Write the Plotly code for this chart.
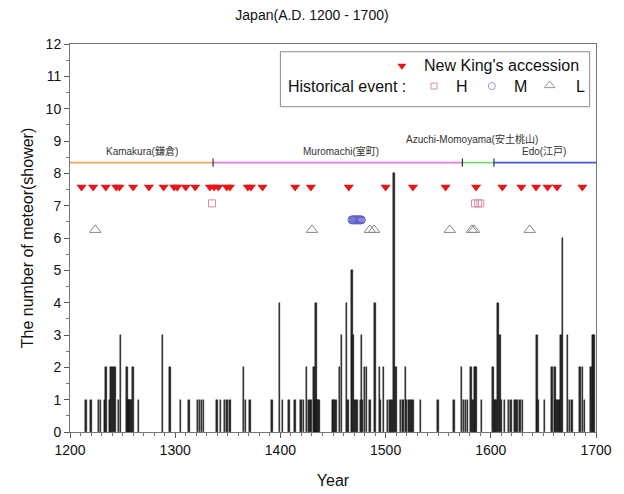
import plotly.graph_objects as go

# ---- data ----
bar_years = [1215, 1220, 1227, 1229, 1233, 1234, 1238, 1239, 1241, 1243, 1246, 1248, 1254, 1255, 1256, 1257,
             1258, 1260, 1265, 1288, 1295, 1305, 1313, 1321, 1323, 1325, 1327, 1340, 1343, 1347, 1349, 1352,
             1365, 1367, 1371, 1392, 1399, 1402, 1408, 1414, 1419, 1420, 1422, 1425, 1427, 1429, 1432, 1433,
             1434, 1435, 1436, 1437, 1450, 1451, 1453, 1456, 1458, 1463, 1464, 1468, 1469, 1471, 1473, 1476,
             1477, 1478, 1480, 1482, 1485, 1490, 1494, 1495, 1498, 1502, 1504, 1506, 1508, 1510, 1514, 1516,
             1517, 1519, 1520, 1522, 1524, 1526, 1533, 1550, 1565, 1572, 1574, 1576, 1578, 1581, 1583, 1585,
             1586, 1591, 1602, 1604, 1605, 1607, 1609, 1610, 1613, 1617, 1619, 1623, 1625, 1628, 1630, 1644,
             1645, 1651, 1658, 1661, 1662, 1664, 1666, 1667, 1668, 1673, 1675, 1677, 1685, 1687, 1689, 1695,
             1697, 1698]
bar_counts = [1, 1, 1, 1, 1, 2, 1, 2, 2, 2, 1, 3, 2, 1, 1, 1,
              1, 2, 1, 3, 2, 1, 1, 1, 1, 1, 1, 1, 1, 1, 1, 1,
              2, 1, 1, 1, 4, 1, 1, 1, 1, 1, 1, 2, 1, 1, 2, 1,
              4, 1, 1, 1, 1, 1, 1, 2, 3, 4, 1, 5, 3, 1, 1, 1,
              3, 1, 2, 2, 1, 4, 2, 1, 2, 1, 1, 1, 8, 2, 1, 1,
              1, 2, 1, 1, 1, 1, 1, 1, 1, 2, 1, 1, 1, 2, 1, 2,
              2, 1, 2, 1, 1, 4, 3, 1, 1, 1, 1, 1, 1, 1, 1, 3,
              1, 1, 2, 2, 1, 1, 1, 3, 6, 3, 1, 1, 2, 2, 1, 2,
              3, 3]

king_years = [1211, 1222, 1234, 1244, 1247, 1260, 1275, 1289, 1299, 1302, 1310, 1319, 1333, 1337, 1341,
              1349, 1352, 1369, 1372, 1383, 1414, 1429, 1465, 1500, 1526, 1557, 1586, 1611, 1629, 1643,
              1654, 1663, 1687]
king_level = 7.58

h_years = [1335, 1585, 1588, 1590]
h_level = 7.07
m_years = [1468, 1469, 1470, 1471, 1472, 1473, 1474, 1475, 1476, 1477]
m_level = 6.56
l_years = [1224, 1430, 1485, 1489, 1561, 1582, 1584, 1637]
l_level = 6.25

period_names = ["Kamakura(鎌倉)", "Muromachi(室町)", "Azuchi-Momoyama(安土桃山)", "Edo(江戸)"]
period_start = [1200, 1336, 1573, 1603]
period_end = [1336, 1573, 1603, 1700]
period_colors = ["#f2a65a", "#e07ae8", "#66e066", "#4455d4"]
period_level = 8.33

FONT = "Liberation Sans, Arial, Noto Sans CJK JP, sans-serif"

fig = go.Figure()

fig.add_trace(go.Bar(x=bar_years, y=bar_counts, width=1.5,
                     marker=dict(color="#2a2a2a", line=dict(color="#000", width=0.4)),
                     showlegend=False))

# periods
for name, s, e, c in zip(period_names, period_start, period_end, period_colors):
    fig.add_trace(go.Scatter(x=[s, e], y=[period_level, period_level], mode="lines",
                             line=dict(color=c, width=1.6), showlegend=False))
for s in period_start[1:]:
    fig.add_shape(type="line", x0=s, x1=s, y0=period_level - 0.13, y1=period_level + 0.13,
                  line=dict(color="#333", width=1.2))
label_x = [1268, 1458, 1582, 1651]
label_y = [8.68, 8.68, 9.07, 8.68]
for name, lx, ly in zip(period_names, label_x, label_y):
    fig.add_annotation(x=lx, y=ly, text=name, showarrow=False,
                       font=dict(family=FONT, size=10, color="#333"))

fig.add_trace(go.Scatter(x=king_years, y=[king_level] * len(king_years), mode="markers",
                         marker=dict(symbol="triangle-down", size=9, color="#e8161b"), showlegend=False))
fig.add_trace(go.Scatter(x=h_years, y=[h_level] * len(h_years), mode="markers",
                         marker=dict(symbol="square-open", size=7, color="#d98ca0", line=dict(width=1)),
                         showlegend=False))
fig.add_trace(go.Scatter(x=m_years, y=[m_level] * len(m_years), mode="markers",
                         marker=dict(symbol="circle-open", size=8, color="#6060c8", line=dict(width=1)),
                         showlegend=False))
fig.add_trace(go.Scatter(x=l_years, y=[l_level] * len(l_years), mode="markers",
                         marker=dict(symbol="triangle-up-open", size=10, color="#888", line=dict(width=1)),
                         showlegend=False))

# custom legend
fig.add_shape(type="rect", x0=1400, x1=1694, y0=10.06, y1=11.76, layer="below",
              line=dict(color="#888", width=1), fillcolor="white")
fig.add_trace(go.Scatter(x=[1515.5], y=[11.33], mode="markers",
                         marker=dict(symbol="triangle-down", size=8, color="#e8161b"), showlegend=False))
fig.add_annotation(x=1535, y=11.33, text="New King's accession", showarrow=False, xanchor="left",
                   font=dict(family=FONT, size=16, color="#111"))
fig.add_annotation(x=1405, y=10.7, text="Historical event :", showarrow=False, xanchor="left",
                   font=dict(family=FONT, size=16, color="#111"))
fig.add_trace(go.Scatter(x=[1546], y=[10.7], mode="markers",
                         marker=dict(symbol="square-open", size=6, color="#d98ca0"), showlegend=False))
fig.add_trace(go.Scatter(x=[1601], y=[10.7], mode="markers",
                         marker=dict(symbol="circle-open", size=7, color="#9a9ad8"), showlegend=False))
fig.add_trace(go.Scatter(x=[1656], y=[10.72], mode="markers",
                         marker=dict(symbol="triangle-up-open", size=9, color="#999"), showlegend=False))
for t, xx in zip(["H", "M", "L"], [1573, 1628, 1685]):
    fig.add_annotation(x=xx, y=10.7, text=t, showarrow=False,
                       font=dict(family=FONT, size=16, color="#111"))

fig.update_layout(
    width=624, height=494,
    margin=dict(l=70, r=28, t=44, b=62),
    paper_bgcolor="white", plot_bgcolor="white",
    bargap=0,
    title=dict(text="Japan(A.D. 1200 - 1700)", x=0.5, xanchor="center", y=0.97, yanchor="middle",
               font=dict(family=FONT, size=14, color="#111")),
    font=dict(family=FONT, size=13, color="#111"),
)
fig.update_xaxes(range=[1200, 1700], dtick=100, tick0=1200, ticks="outside", ticklen=5,
                 tickcolor="#555", showline=True, linecolor="#777", linewidth=1, mirror=True,
                 showgrid=False, zeroline=False, automargin=False,
                 minor=dict(dtick=10, ticks="outside", ticklen=3, tickcolor="#777"),
                 title=dict(text="Year", font=dict(family=FONT, size=16), standoff=18),
                 tickfont=dict(family=FONT, size=14))
fig.update_yaxes(range=[0, 12], dtick=1, tick0=0, ticks="outside", ticklen=5,
                 tickcolor="#555", showline=True, linecolor="#777", linewidth=1, mirror=True,
                 showgrid=False, zeroline=False, automargin=False,
                 minor=dict(dtick=0.5, ticks="outside", ticklen=3, tickcolor="#777"),
                 title=dict(text="The number of meteor(shower)", font=dict(family=FONT, size=16), standoff=8),
                 tickfont=dict(family=FONT, size=14))

fig.write_html("out.html")
